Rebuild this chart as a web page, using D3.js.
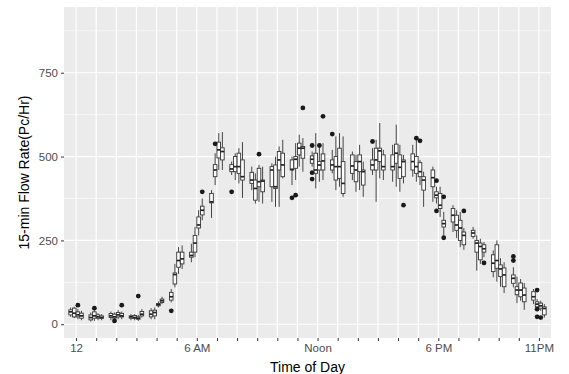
<!DOCTYPE html>
<html>
<head>
<meta charset="utf-8">
<script src="https://cdn.jsdelivr.net/npm/d3@7"></script>
<style>
  body { margin: 0; background: #ffffff; }
  #chart { width: 569px; height: 374px; }
  text { font-family: "Liberation Sans", Arial, sans-serif; }
</style>
</head>
<body>
<div id="chart"></div>
<script>
// Hour of day for each group of four 15-minute boxes
const hours = d3.range(0, 24);
// Tick labels on the x axis (empty = tick only)
const hourLabels = { 0: "12", 6: "6 AM", 12: "Noon", 18: "6 PM", 23: "11PM" };
const yTicks = [0, 250, 500, 750];

// Box statistics, 4 boxes per hour (00, 15, 30, 45 min)
const whiskerLow = [
  22, 18, 15, 12,   8, 10, 12, 12,   12, 15, 15, 15,   12, 12, 10, 20,
  15, 15, 50, 60,   65, 110, 150, 165,   185, 200, 265, 310,   317, 415, 460, 460,
  445, 430, 420, 377,   400, 360, 365, 360,   365, 350, 350, 435,   415, 430, 470, 455,
  470, 405, 425, 430,   450, 400, 410, 380,   430, 395, 400, 380,   445, 365, 435, 430,
  425, 410, 395, 420,   440, 425, 415, 350,   365, 360, 320, 265,   275, 257, 230, 222,
  255, 160, 180, 200,   140, 127, 112, 93,   110, 63, 70, 43,   60, 45, 40, 20
];
const q1 = [
  28, 22, 22, 18,   13, 18, 18, 18,   20, 18, 22, 22,   18, 18, 15, 25,
  22, 25, 55, 65,   72, 120, 170, 180,   200, 215, 287, 326,   362, 440, 496, 490,
  455, 455, 450, 430,   420, 370, 410, 395,   410, 405, 460, 440,   460, 465, 505, 495,
  480, 450, 460, 460,   460, 430, 435, 390,   450, 425, 455, 415,   460, 460, 485, 460,
  460, 480, 435, 440,   460, 450, 440, 400,   410, 377, 345, 290,   305, 280, 250, 237,
  262, 215, 192, 215,   157, 167, 142, 112,   122, 88, 82, 67,   72, 52, 48, 28
];
const median = [
  37, 33, 28, 25,   20, 25, 22, 20,   25, 22, 28, 25,   22, 20, 18, 30,
  30, 35, 58, 70,   82, 148, 190, 195,   205, 242, 296, 340,   365, 460, 520, 515,
  463, 470, 470, 440,   430, 405, 425, 427,   460, 410, 490, 475,   462, 492, 525, 525,
  492, 460, 475, 487,   475, 470, 470, 420,   472, 460, 485, 455,   475, 490, 517, 470,
  470, 510, 468, 485,   485, 470, 455, 430,   437, 385, 355, 300,   325, 296, 287, 265,
  272, 242, 232, 225,   182, 190, 165, 147,   137, 102, 102, 87,   82, 60, 55, 47
];
const q3 = [
  43, 48, 37, 33,   28, 37, 28, 25,   32, 30, 35, 32,   25, 26, 22, 38,
  40, 42, 62, 75,   95, 153, 215, 215,   215, 265, 320, 352,   390, 476, 543, 526,
  476, 500, 510, 490,   453, 430, 465, 430,   470, 475, 515, 510,   490, 500, 540, 530,
  502, 510, 485, 508,   490, 500, 525, 485,   505, 485, 505, 460,   490, 525, 525, 505,
  505, 537, 505, 490,   508, 500, 482, 440,   460, 395, 390, 310,   345, 325, 310, 275,
  280, 250, 242, 237,   207, 237, 177, 168,   147, 112, 123, 108,   97, 67, 63, 52
];
const whiskerHigh = [
  50, 52, 45, 40,   35, 42, 33, 30,   38, 35, 42, 38,   30, 30, 28, 45,
  48, 50, 68, 82,   105, 180, 230, 235,   240, 290, 340, 375,   400, 510, 570, 573,
  485, 510, 525, 543,   470, 450, 475, 470,   480, 500, 530, 550,   500, 540, 565, 555,
  515, 570, 527, 540,   520, 560, 570, 560,   515, 505, 535, 485,   525, 550, 600, 520,
  535, 595, 535, 505,   535, 550, 490, 455,   470, 410, 410, 335,   355, 340, 335, 287,
  290, 265, 255, 245,   220, 250, 197, 185,   170, 142, 135, 123,   105, 75, 70, 60
];
// Outliers: [box index, value]
const outliers = [
  [2, 57], [5, 48], [9, 10], [11, 57], [14, 84], [20, 40], [27, 395], [29, 538],
  [32, 395], [38, 507], [44, 377], [45, 385], [47, 645], [48, 533], [48, 452], [48, 433],
  [50, 533], [51, 620], [52, 567], [60, 545], [67, 355], [69, 555], [70, 547],
  [73, 428], [73, 338], [75, 380], [75, 258], [79, 338], [83, 183],
  [88, 202], [88, 190], [93, 102], [93, 45], [93, 22], [94, 20]
];

class FlowBoxPlot {
    constructor(targetElementName, margin = { top: 7, right: 18, bottom: 36, left: 64 }) {
        this.targetElement = d3.select(`#${targetElementName}`);
        this.targetElement.html("");
        this.margin = margin;
        this.width = 569;
        this.height = 374;
        this.chartRangeWidth = this.width - margin.left - margin.right;
        this.chartRangeHeight = this.height - margin.top - margin.bottom;

        // one row per box
        this.boxes = median.map((m, i) => ({
            hour: hours[Math.floor(i / 4)],
            quarter: i % 4,
            lo: whiskerLow[i], q1: q1[i], med: m, q3: q3[i], hi: whiskerHigh[i]
        }));
    }

    initPlot() {
        let margin = this.margin;
        this.svg = this.targetElement.append("svg")
                                     .attr("width", this.width)
                                     .attr("height", this.height)
                                     .append("g")
                                     .attr("transform", `translate(${margin.left}, ${margin.top})`);
    }

    drawPlot() {
        let w = this.chartRangeWidth, h = this.chartRangeHeight;

        let x = d3.scaleLinear().domain([-0.6, 23.6]).range([0, w]);
        let y = d3.scaleLinear().domain([-41, 946]).range([h, 0]);

        // the four quarter-hour boxes sit around the hour mark
        let quarterShift = [-0.27, -0.09, 0.09, 0.27];
        let boxW = 3.6;
        let cx = d => x(d.hour + quarterShift[d.quarter]);

        // panel background
        this.svg.append("rect")
                .attr("width", w).attr("height", h)
                .style("fill", "#EBEBEB");

        // minor y grid
        this.svg.append("g").selectAll("line")
                .data([125, 375, 625, 875])
                .join("line")
                .attr("x1", 0).attr("x2", w)
                .attr("y1", d => y(d)).attr("y2", d => y(d))
                .style("stroke", "#ffffff").style("stroke-width", 0.6);

        // major grid
        this.svg.append("g").selectAll("line")
                .data(yTicks)
                .join("line")
                .attr("x1", 0).attr("x2", w)
                .attr("y1", d => y(d)).attr("y2", d => y(d))
                .style("stroke", "#ffffff").style("stroke-width", 1.2);
        this.svg.append("g").selectAll("line")
                .data(hours)
                .join("line")
                .attr("x1", d => x(d)).attr("x2", d => x(d))
                .attr("y1", 0).attr("y2", h)
                .style("stroke", "#ffffff").style("stroke-width", 1.2);

        // axes
        let xAxis = this.svg.append("g")
                .attr("transform", `translate(0, ${h})`)
                .call(d3.axisBottom(x).tickValues(hours)
                        .tickFormat(d => hourLabels[d] || "")
                        .tickSize(3).tickPadding(3));
        let yAxis = this.svg.append("g")
                .call(d3.axisLeft(y).tickValues(yTicks).tickSize(3).tickPadding(3));
        [xAxis, yAxis].forEach(a => {
            a.select(".domain").remove();
            a.selectAll(".tick line").style("stroke", "#333333").style("stroke-width", 1);
            a.selectAll(".tick text").style("fill", "#4D4D4D").style("font-size", "11.5px")
             .style("font-family", "'Liberation Sans', Arial, sans-serif");
        });

        // axis titles
        this.svg.append("text")
                .attr("x", w / 2).attr("y", h + 34)
                .attr("text-anchor", "middle")
                .style("font-size", "14px").style("fill", "#000000")
                .text("Time of Day");
        this.svg.append("text")
                .attr("transform", `translate(${-35}, ${h / 2}) rotate(-90)`)
                .attr("text-anchor", "middle")
                .style("font-size", "14px").style("fill", "#000000")
                .text("15-min Flow Rate(Pc/Hr)");

        // boxes
        let g = this.svg.append("g");
        let box = g.selectAll("g.box").data(this.boxes).join("g").attr("class", "box");

        box.append("line")
           .attr("x1", cx).attr("x2", cx)
           .attr("y1", d => y(d.hi)).attr("y2", d => y(d.q3))
           .style("stroke", "#333333").style("stroke-width", 0.9);
        box.append("line")
           .attr("x1", cx).attr("x2", cx)
           .attr("y1", d => y(d.q1)).attr("y2", d => y(d.lo))
           .style("stroke", "#333333").style("stroke-width", 0.9);
        box.append("rect")
           .attr("x", d => cx(d) - boxW / 2)
           .attr("width", boxW)
           .attr("y", d => y(d.q3))
           .attr("height", d => Math.max(0.5, y(d.q1) - y(d.q3)))
           .style("fill", "#ffffff")
           .style("stroke", "#333333").style("stroke-width", 0.9);
        box.append("line")
           .attr("x1", d => cx(d) - boxW / 2).attr("x2", d => cx(d) + boxW / 2)
           .attr("y1", d => y(d.med)).attr("y2", d => y(d.med))
           .style("stroke", "#222222").style("stroke-width", 1.7);

        // outliers
        g.selectAll("circle")
         .data(outliers)
         .join("circle")
         .attr("cx", d => cx(this.boxes[d[0]]))
         .attr("cy", d => y(d[1]))
         .attr("r", 2.4)
         .style("fill", "#1a1a1a");
    }
}

let plot = new FlowBoxPlot("chart");
plot.initPlot();
plot.drawPlot();
</script>
</body>
</html>
